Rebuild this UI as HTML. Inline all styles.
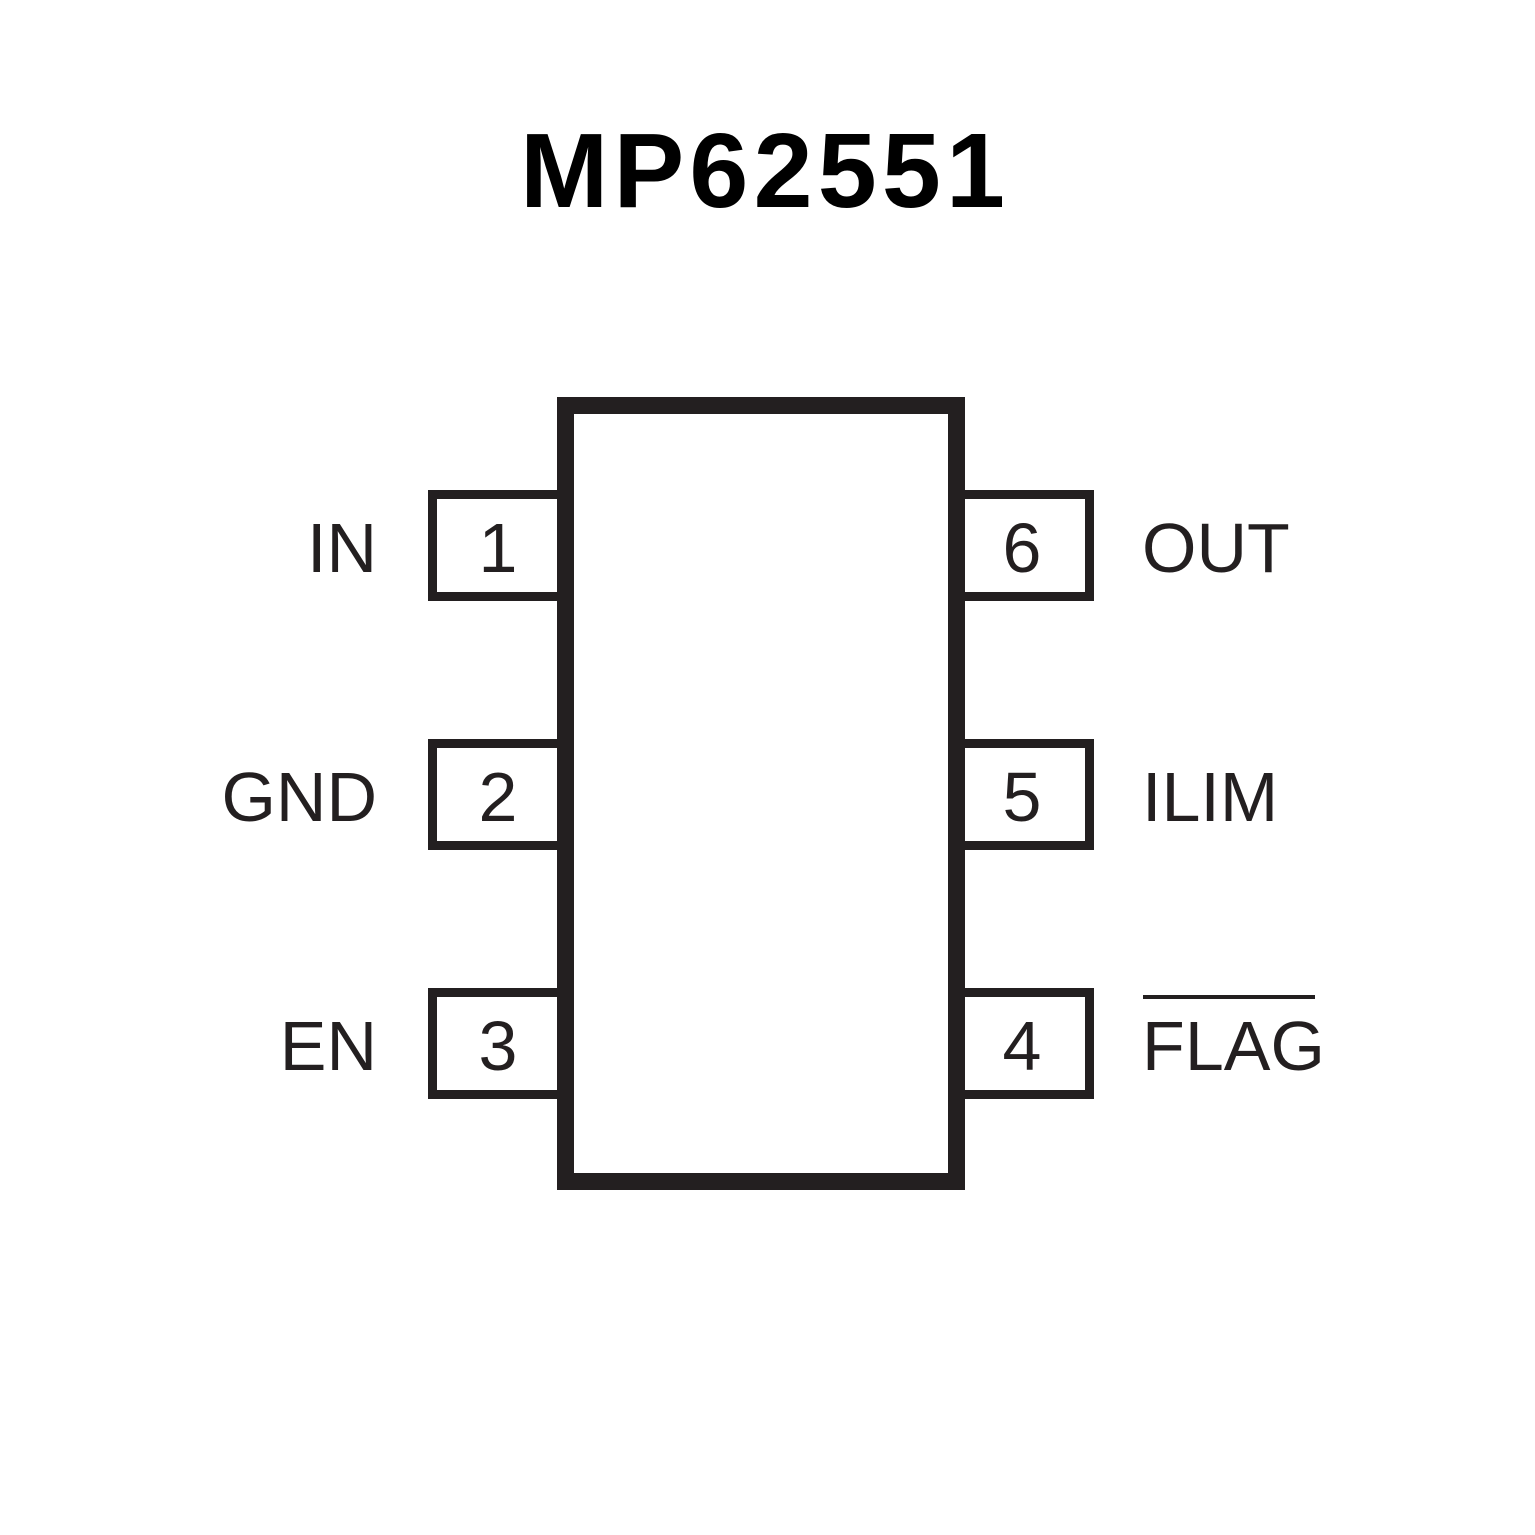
<!DOCTYPE html>
<html><head><style>html,body{margin:0;padding:0;background:#fff}svg{display:block}</style></head>
<body>
<svg width="1535" height="1535" viewBox="0 0 1535 1535" xmlns="http://www.w3.org/2000/svg">
<rect width="1535" height="1535" fill="#fff"/>
<text x="520" y="207" textLength="485" font-family="Liberation Sans, sans-serif" font-weight="bold" font-size="106" fill="#000">MP62551</text>
<g fill="none" stroke="#231f20">
<rect x="565.5" y="405.5" width="391" height="776" stroke-width="17"/>
<g stroke-width="9">
<path d="M557 494.5H432.5V596.5H557"/>
<path d="M557 743.5H432.5V845.5H557"/>
<path d="M557 992.5H432.5V1094.5H557"/>
<path d="M965 494.5H1089.5V596.5H965"/>
<path d="M965 743.5H1089.5V845.5H965"/>
<path d="M965 992.5H1089.5V1094.5H965"/>
</g>
</g>
<g font-family="Liberation Sans, sans-serif" font-size="70" fill="#231f20">
<text x="498" y="572" text-anchor="middle">1</text>
<text x="498" y="821" text-anchor="middle">2</text>
<text x="498" y="1070" text-anchor="middle">3</text>
<text x="1022" y="572" text-anchor="middle">6</text>
<text x="1022" y="821" text-anchor="middle">5</text>
<text x="1022" y="1070" text-anchor="middle">4</text>
<text x="377" y="572" text-anchor="end">IN</text>
<text x="377" y="821" text-anchor="end">GND</text>
<text x="377" y="1070" text-anchor="end">EN</text>
<text x="1142" y="572">OUT</text>
<text x="1142" y="821">ILIM</text>
<text x="1142" y="1070" textLength="183">FLAG</text>
</g>
<rect x="1143" y="995" width="172" height="4" fill="#231f20"/>
</svg>
</body></html>
